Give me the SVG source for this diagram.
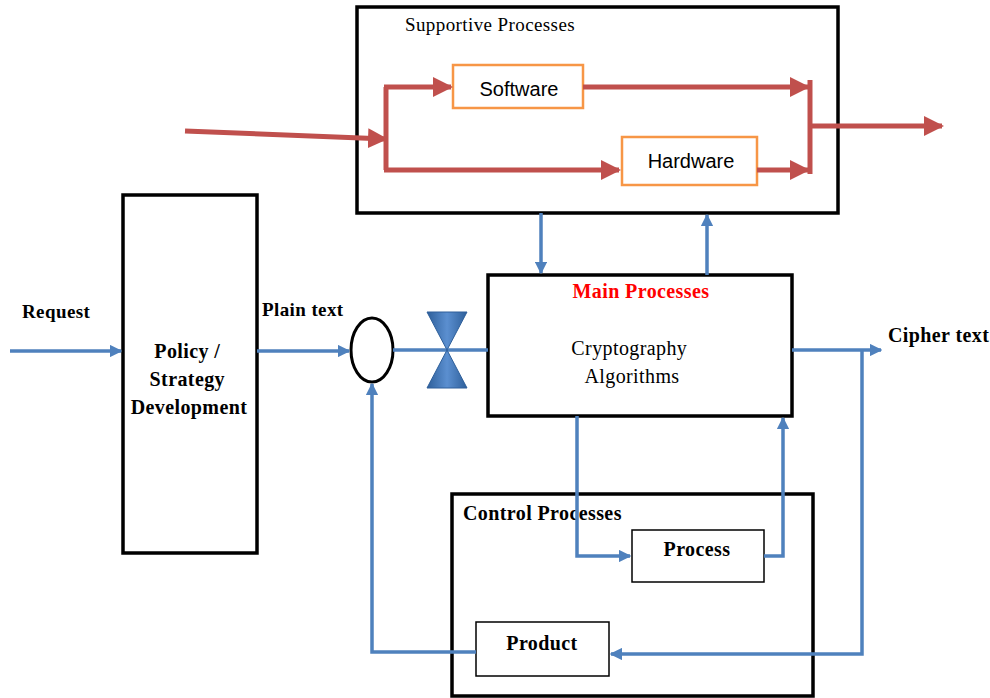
<svg xmlns="http://www.w3.org/2000/svg" width="990" height="698" viewBox="0 0 990 698">
  <style>
    .box { fill: #fff; stroke: #000; stroke-width: 3.5; }
    .thin { fill: #fff; stroke: #000; stroke-width: 1.5; }
    .orange { fill: #fff; stroke: #F79646; stroke-width: 2.5; }
    .red { fill: none; stroke: #C0504D; stroke-width: 5; }
    .blue { fill: none; stroke: #4F81BD; stroke-width: 3.5; }
    .serif { font-family: "Liberation Serif", "Times New Roman", serif; fill: #000; letter-spacing: 0.4px; }
    .b { font-weight: bold; }
    .sans { font-family: "Liberation Sans", Arial, sans-serif; fill: #000; }
  </style>
  <defs>
    <marker id="redArrow" viewBox="0 0 10 10" refX="9" refY="5" markerWidth="4" markerHeight="4" markerUnits="strokeWidth" orient="auto">
      <path d="M0,0 L10,5 L0,10 Z" fill="#C0504D"/>
    </marker>
    <marker id="blueArrow" viewBox="0 0 10 10" refX="9" refY="5" markerWidth="3.6" markerHeight="3.6" markerUnits="strokeWidth" orient="auto">
      <path d="M0,0 L10,5 L0,10 Z" fill="#4F81BD"/>
    </marker>
    <linearGradient id="valveGrad" x1="0" y1="0" x2="1" y2="0">
      <stop offset="0" stop-color="#2E5F9A"/>
      <stop offset="0.5" stop-color="#5B8FD0"/>
      <stop offset="1" stop-color="#2E5F9A"/>
    </linearGradient>
  </defs>

  <!-- Supportive processes -->
  <g id="supportive">
    <rect class="box" x="357" y="7" width="481" height="206"/>
    <text class="serif" x="405" y="31" font-size="19" letter-spacing="0.9">Supportive Processes</text>
  </g>
  <g id="software">
    <rect class="orange" x="453" y="65" width="130" height="43"/>
    <text class="sans" x="519" y="96" font-size="20" text-anchor="middle">Software</text>
  </g>
  <g id="hardware">
    <rect class="orange" x="622" y="137" width="135" height="48"/>
    <text class="sans" x="691" y="168" font-size="20" text-anchor="middle">Hardware</text>
  </g>

  <!-- Policy / strategy -->
  <g id="policy">
    <rect class="box" x="123" y="195" width="134" height="358"/>
    <text class="serif b" font-size="20" text-anchor="middle">
      <tspan x="190" y="358">Policy /</tspan>
      <tspan x="190" y="386">Strategy</tspan>
      <tspan x="189" y="414">Development</tspan>
    </text>
  </g>

  <!-- Summing junction -->
  <g id="junction">
    <ellipse cx="372" cy="350" rx="21" ry="32" fill="#fff" stroke="#000" stroke-width="3"/>
  </g>

  <!-- Main processes -->
  <g id="main">
    <rect class="box" x="488" y="275" width="304" height="141"/>
    <text class="serif b" x="641" y="298" font-size="20" style="fill:#FF0000" text-anchor="middle">Main Processes</text>
    <text class="serif" font-size="20" text-anchor="middle">
      <tspan x="632" y="355">Cryptography</tspan>
      <tspan x="632" y="383">Algorithms</tspan>
    </text>
  </g>

  <!-- Control processes -->
  <g id="control">
    <rect class="box" x="452" y="494" width="361" height="202"/>
    <text class="serif b" x="463" y="520" font-size="20">Control Processes</text>
  </g>
  <g id="process">
    <rect class="thin" x="632" y="530" width="132" height="52"/>
    <text class="serif b" x="697" y="556" font-size="20" text-anchor="middle">Process</text>
  </g>
  <g id="product">
    <rect class="thin" x="476" y="622" width="133" height="54"/>
    <text class="serif b" x="542" y="650" font-size="20" text-anchor="middle">Product</text>
  </g>

  <!-- Labels -->
  <g id="labels">
    <text class="serif b" x="22" y="318" font-size="19">Request</text>
    <text class="serif b" x="262" y="316" font-size="19">Plain text</text>
    <text class="serif b" x="888" y="342" font-size="20">Cipher text</text>
  </g>

  <!-- Connectors -->
  <g id="connectors">
    <!-- support flow -->
    <path class="red" d="M185,131 L386,139" marker-end="url(#redArrow)"/>
    <path class="red" d="M386,87 L386,170"/>
    <path class="red" d="M384,87 L451,87" marker-end="url(#redArrow)"/>
    <path class="red" d="M384,170 L619,170" marker-end="url(#redArrow)"/>
    <path class="red" d="M583,87 L808,87" marker-end="url(#redArrow)"/>
    <path class="red" d="M757,170 L808,170" marker-end="url(#redArrow)"/>
    <path class="red" d="M810,80 L810,174"/>
    <path class="red" d="M808,126 L942,126" marker-end="url(#redArrow)"/>

    <!-- main flow -->
    <path class="blue" d="M10,351 L121,351" marker-end="url(#blueArrow)"/>
    <path class="blue" d="M257,351 L349,351" marker-end="url(#blueArrow)"/>
    <path class="blue" d="M393,350 L488,350"/>
    <path class="blue" d="M792,350 L881,350" marker-end="url(#blueArrow)"/>

    <!-- supportive link -->
    <path class="blue" d="M541,213 L541,273" marker-end="url(#blueArrow)"/>
    <path class="blue" d="M707,275 L707,215" marker-end="url(#blueArrow)"/>

    <!-- control loop -->
    <path class="blue" d="M577,416 L577,556 L630,556" marker-end="url(#blueArrow)"/>
    <path class="blue" d="M764,556 L783,556 L783,418" marker-end="url(#blueArrow)"/>
    <path class="blue" d="M862,350 L862,654 L611,654" marker-end="url(#blueArrow)"/>
    <path class="blue" d="M476,652 L372,652 L372,384" marker-end="url(#blueArrow)"/>
  </g>

  <!-- Valve -->
  <g id="valve">
    <path d="M427,312 L467,312 L447,350 Z M427,388 L467,388 L447,350 Z" fill="url(#valveGrad)" stroke="#2E5F9A" stroke-width="1"/>
  </g>
</svg>
